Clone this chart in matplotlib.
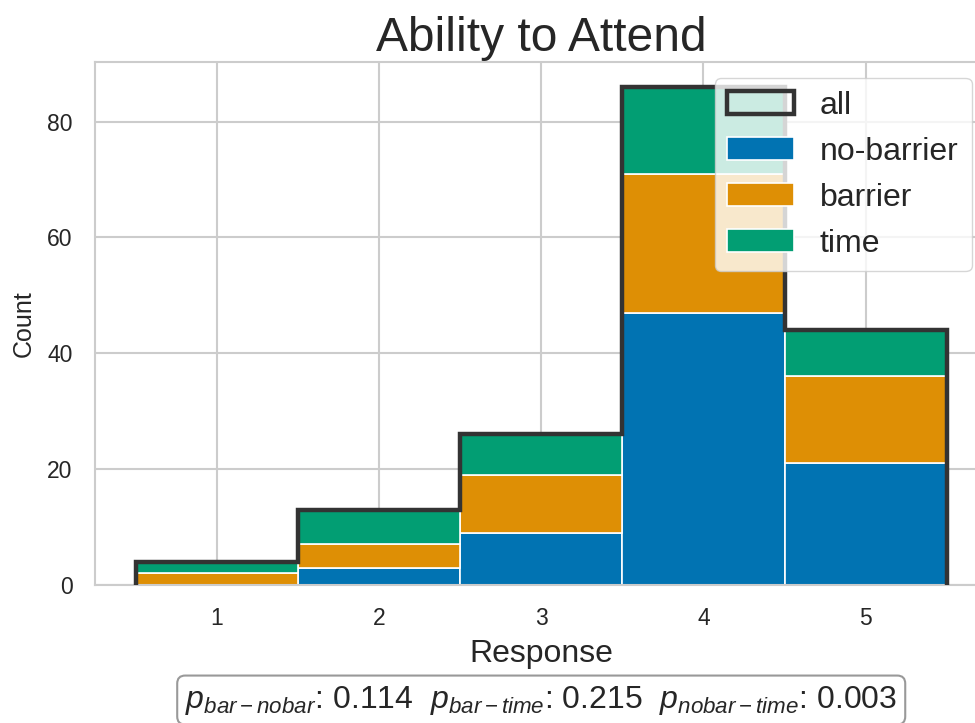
import matplotlib
matplotlib.use("Agg")
import matplotlib.pyplot as plt
from matplotlib.patches import Patch
import seaborn as sns
import numpy as np

responses = [1, 2, 3, 4, 5]
no_barrier = [0, 3, 9, 47, 21]
barrier = [2, 4, 10, 24, 15]
time_ = [2, 6, 7, 15, 8]
series_names = ["no-barrier", "barrier", "time"]
p_labels = ["bar-nobar", "bar-time", "nobar-time"]
p_values = [0.114, 0.215, 0.003]

sns.set_theme(style="whitegrid", palette="colorblind")
plt.rcParams['font.family'] = ['Liberation Sans', 'DejaVu Sans']
plt.rcParams['mathtext.fontset'] = 'custom'
plt.rcParams['mathtext.rm'] = 'Liberation Sans'
plt.rcParams['mathtext.it'] = 'Liberation Sans:italic'
plt.rcParams['mathtext.bf'] = 'Liberation Sans:bold'

colors = sns.color_palette("colorblind")
fig = plt.figure(figsize=(9.75, 7.23), dpi=100)
ax = fig.add_axes([0.0974, 0.1909, 0.9154, 0.7234])

x = np.array(responses, dtype=float)
bottom = np.zeros(len(x))
handles = []
for name, vals, c in zip(series_names, [no_barrier, barrier, time_], colors[:3]):
    vals = np.array(vals, dtype=float)
    b = ax.bar(x, vals, width=1.0, bottom=bottom, color=c, edgecolor='white',
               linewidth=1.2, label=name, zorder=2)
    handles.append(b)
    bottom = bottom + vals

edges = np.concatenate([x - 0.5, [x[-1] + 0.5]])
ax.stairs(bottom, edges, baseline=0, fill=False, color='#333333',
          linewidth=3.2, zorder=3)
all_handle = Patch(facecolor='none', edgecolor='#333333', linewidth=3.2)

ax.set_xlim(0.25, 5.75)
ax.set_ylim(0, bottom.max() * 1.05)
ax.set_xticks(responses)
ax.set_yticks([0, 20, 40, 60, 80])
ax.tick_params(axis='both', labelsize=16.5, colors='#262626', pad=10)
for s in ax.spines.values():
    s.set_color('#cccccc')
    s.set_linewidth(1.5)
ax.grid(True, color='#cccccc', linewidth=1.5, zorder=0)
ax.set_axisbelow(True)

ax.set_title("Ability to Attend", fontsize=34.5, color='#262626', pad=8)
ax.set_xlabel("Response", fontsize=23, color='#262626', labelpad=6)
ax.set_ylabel("Count", fontsize=18, color='#262626', labelpad=8)

leg = ax.legend([all_handle] + handles, ['all'] + series_names, loc='upper right',
                fontsize=23, framealpha=0.8, handlelength=2.1)

ptxt = "  ".join(r"$p_{%s}$: %.3f" % (lab, v) for lab, v in zip(p_labels, p_values))
ax.text(0.5, -0.22, ptxt, transform=ax.transAxes, ha='center', va='center',
        fontsize=23, color='#262626',
        bbox=dict(boxstyle='round,pad=0.25', facecolor='white', edgecolor='#999999', linewidth=1.5))

fig.savefig("out.png", dpi=100)
